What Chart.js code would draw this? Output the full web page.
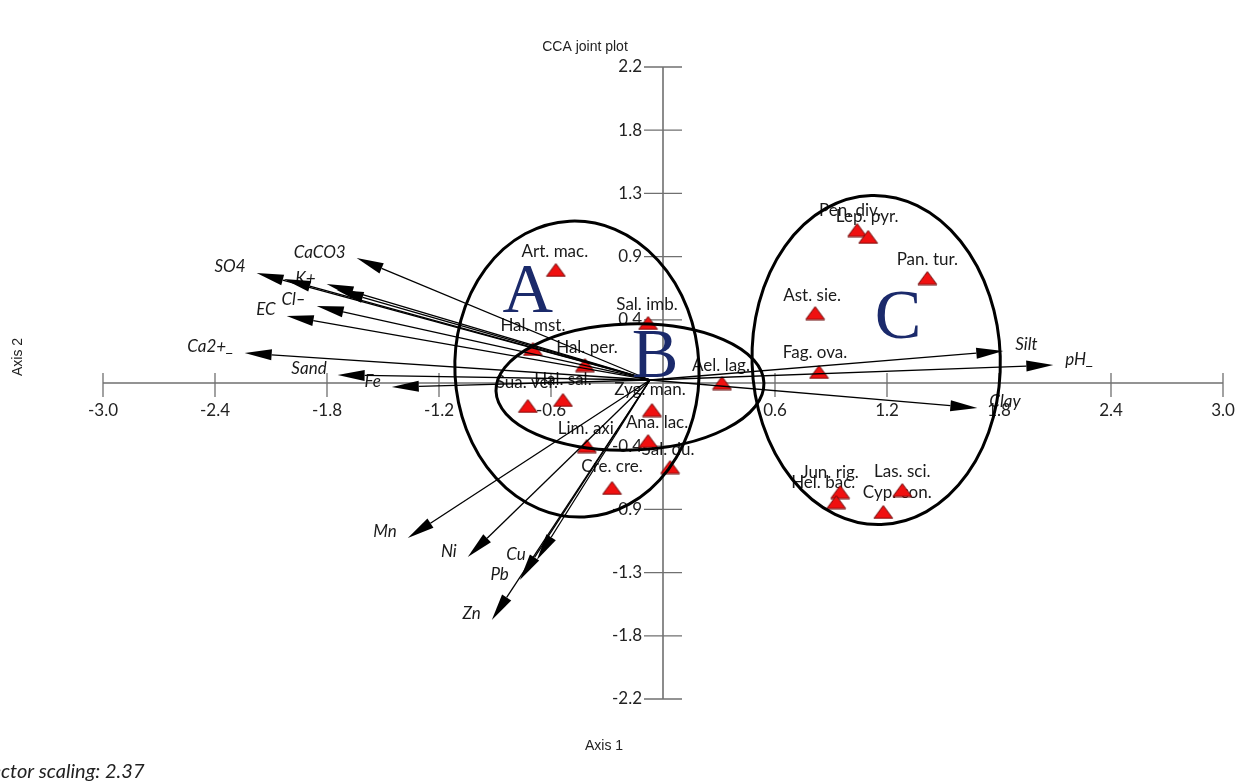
<!DOCTYPE html>
<html>
<head>
<meta charset="utf-8">
<script src="https://cdn.jsdelivr.net/npm/chart.js@4.4.1/dist/chart.umd.min.js"></script>
<style>
  html, body { margin: 0; padding: 0; background: #fff; }
  #wrap { width: 1247px; height: 783px; position: relative; }
</style>
</head>
<body>
<div id="wrap"><canvas id="cca" width="1247" height="783"></canvas></div>
<script>
// ---- axis ticks ----
const xTicks = [-3.0, -2.4, -1.8, -1.2, -0.6, 0.6, 1.2, 1.8, 2.4, 3.0];
const yTicks = [-2.2, -1.76, -1.32, -0.88, -0.44, 0.44, 0.88, 1.32, 1.76, 2.2];

// ---- species scores (axis 1, axis 2) ----
const speciesNames = ["Art. mac.", "Sal. imb.", "Hal. mst.", "Hal. per.", "Sua. ver.", "Hal. sal.",
  "Zyg. man.", "Ana. lac.", "Lim. axi.", "Sal. du.", "Cre. cre.", "Ael. lag.", "Fag. ova.",
  "Ast. sie.", "Pan. tur.", "Pen. div.", "Lep. pyr.", "Jun. rig.", "Hel. bac.", "Las. sci.", "Cyp. con."];
const speciesX = [-0.574, -0.080, -0.697, -0.418, -0.724, -0.536, -0.059, -0.080, -0.408, 0.038,
  -0.273, 0.316, 0.836, 0.815, 1.416, 1.040, 1.099, 0.949, 0.928, 1.282, 1.180];
const speciesY = [0.787, 0.418, 0.237, 0.125, -0.160, -0.118, -0.188, -0.404, -0.439, -0.585,
  -0.731, 0.000, 0.077, 0.487, 0.731, 1.065, 1.017, -0.759, -0.829, -0.745, -0.898];

// ---- environmental vectors (biplot tips) ----
const vectorOrigin = [-0.070, 0.021];
const vectorNames = ["CaCO3", "SO4", "Na+", "K+", "Mg2+", "Cl\u2013", "EC", "Ca2+_", "Sand", "Fe",
  "Silt", "pH_", "Clay", "Mn", "Ni", "Cu", "Pb", "Zn"];
const vectorX = [-1.641, -2.177, -2.032, -1.802, -1.748, -1.855, -2.016, -2.241, -1.743, -1.453,
  1.823, 2.091, 1.684, -1.367, -1.046, -0.676, -0.767, -0.917];
const vectorY = [0.870, 0.766, 0.724, 0.689, 0.648, 0.536, 0.467, 0.209, 0.056, -0.028,
  0.223, 0.125, -0.174, -1.079, -1.212, -1.233, -1.372, -1.650];

// ---- site groups (ellipse centre, semi-axes, in axis units) ----
const groupNames = ["A", "B", "C"];
const groupCX = [-0.461, -0.177, 1.142];
const groupCY = [0.097, -0.028, 0.160];
const groupRX = [0.654, 0.718, 0.665];
const groupRY = [1.031, 0.439, 1.146];
const groupLabelX = [-0.724, -0.043, 1.260];
const groupLabelY = [0.494, 0.042, 0.313];

// ---- drawing styles ----
const ellipseTilt = [-0.05, -0.03, -0.03];
// vector names that sit under the crowded arrowheads and are left unlabelled
const crowdedVectorLabels = new Set(["Na+", "Mg2+"]);
const labelNudge = {
  "Art. mac.": [-1, -18], "Sal. imb.": [-1, -18], "Hal. mst.": [0, -23], "Hal. per.": [2, -18],
  "Sua. ver.": [-1, -23], "Hal. sal.": [0, -20], "Zyg. man.": [-2, -20], "Ana. lac.": [9, -19],
  "Lim. axi.": [1, -18], "Sal. du.": [-2, -18], "Cre. cre.": [0, -21], "Ael. lag.": [-1, -17],
  "Fag. ova.": [-4, -19], "Ast. sie.": [-3, -18], "Pan. tur.": [0, -18], "Pen. div.": [-7, -20],
  "Lep. pyr.": [-1, -20], "Jun. rig.": [-10, -20], "Hel. bac.": [-13, -20], "Las. sci.": [0, -18],
  "Cyp. con.": [14, -19]
};

// red triangle marker
function makeTriangle() {
  const c = document.createElement('canvas');
  c.width = 21; c.height = 15;
  const g = c.getContext('2d');
  g.beginPath();
  g.moveTo(10.5, 1); g.lineTo(20, 14); g.lineTo(1, 14); g.closePath();
  g.fillStyle = '#f01010';
  g.fill();
  g.lineWidth = 1;
  g.strokeStyle = '#6a0a0a';
  g.stroke();
  return c;
}

function drawArrow(ctx, x0, y0, x1, y1) {
  const a = Math.atan2(y1 - y0, x1 - x0);
  const L = 27, W = 5.5;
  const bx = x1 - L * Math.cos(a), by = y1 - L * Math.sin(a);
  ctx.beginPath();
  ctx.moveTo(x0, y0); ctx.lineTo(bx, by);
  ctx.stroke();
  ctx.beginPath();
  ctx.moveTo(x1, y1);
  ctx.lineTo(bx - W * Math.sin(a), by + W * Math.cos(a));
  ctx.lineTo(bx + W * Math.sin(a), by - W * Math.cos(a));
  ctx.closePath();
  ctx.fill();
}

const ccaPlugin = {
  id: 'ccaJoint',
  beforeDraw(chart) {
    const ctx = chart.ctx;
    ctx.save();
    ctx.fillStyle = '#ffffff';
    ctx.fillRect(0, 0, chart.width, chart.height);
    ctx.restore();
  },
  beforeDatasetsDraw(chart) {
    const ctx = chart.ctx;
    const xs = chart.scales.x, ys = chart.scales.y;
    const x0 = xs.getPixelForValue(0), y0 = ys.getPixelForValue(0);
    ctx.save();

    // axes crossing at the origin
    ctx.strokeStyle = '#707070';
    ctx.lineWidth = 1.6;
    ctx.beginPath();
    ctx.moveTo(xs.getPixelForValue(xs.min), y0); ctx.lineTo(xs.getPixelForValue(xs.max), y0);
    ctx.moveTo(x0, ys.getPixelForValue(ys.max)); ctx.lineTo(x0, ys.getPixelForValue(ys.min));
    ctx.stroke();

    ctx.lineWidth = 1.3;
    ctx.beginPath();
    xTicks.forEach(v => {
      const px = xs.getPixelForValue(v);
      ctx.moveTo(px, y0 - 10); ctx.lineTo(px, y0 + 14);
    });
    yTicks.forEach(v => {
      const py = ys.getPixelForValue(v);
      ctx.moveTo(x0 - 19, py); ctx.lineTo(x0 + 19, py);
    });
    ctx.stroke();

    // tick labels
    ctx.fillStyle = '#222';
    ctx.font = '17px Lato, "Liberation Sans", sans-serif';
    ctx.textAlign = 'center';
    ctx.textBaseline = 'middle';
    xTicks.forEach(v => ctx.fillText(v.toFixed(1), xs.getPixelForValue(v), y0 + 28));
    ctx.textAlign = 'right';
    yTicks.forEach(v => ctx.fillText(v.toFixed(1), x0 - 21, ys.getPixelForValue(v)));

    // titles
    ctx.font = '14px "Liberation Sans", Arial, sans-serif';
    ctx.textAlign = 'center';
    ctx.fillText('CCA joint plot', 585, 47);
    ctx.fillText('Axis 1', 604, 746);
    ctx.save();
    ctx.translate(18, 357);
    ctx.rotate(-Math.PI / 2);
    ctx.fillText('Axis 2', 0, 0);
    ctx.restore();
    ctx.font = 'italic 20px Lato, "Liberation Sans", sans-serif';
    ctx.textAlign = 'left';
    ctx.fillText('Vector scaling: 2.37', 1 - ctx.measureText('Ve').width, 772);

    // species names
    ctx.font = '17px Lato, "Liberation Sans", sans-serif';
    ctx.textAlign = 'center';
    ctx.fillStyle = '#1a1a1a';
    speciesNames.forEach((n, i) => {
      const d = labelNudge[n] || [0, -19];
      ctx.fillText(n, xs.getPixelForValue(speciesX[i]) + d[0], ys.getPixelForValue(speciesY[i]) + d[1]);
    });

    // vector names, set just beyond each arrow tip
    ctx.font = 'italic 17px Lato, "Liberation Sans", sans-serif';
    vectorNames.forEach((n, i) => {
      if (crowdedVectorLabels.has(n)) return;
      const px = xs.getPixelForValue(vectorX[i]), py = ys.getPixelForValue(vectorY[i]);
      if (vectorX[i] < vectorOrigin[0]) {
        ctx.textAlign = 'right';
        ctx.fillText(n, px - 11, py - 6);
      } else {
        ctx.textAlign = 'left';
        ctx.fillText(n, px + 12, py - 6);
      }
    });
    ctx.restore();
  },
  afterDatasetsDraw(chart) {
    const ctx = chart.ctx;
    const xs = chart.scales.x, ys = chart.scales.y;
    ctx.save();

    // environmental vectors
    const ox = xs.getPixelForValue(vectorOrigin[0]), oy = ys.getPixelForValue(vectorOrigin[1]);
    ctx.strokeStyle = '#000';
    ctx.fillStyle = '#000';
    ctx.lineWidth = 1.3;
    vectorNames.forEach((n, i) => {
      drawArrow(ctx, ox, oy, xs.getPixelForValue(vectorX[i]), ys.getPixelForValue(vectorY[i]));
    });

    // group ellipses
    ctx.lineWidth = 3;
    groupNames.forEach((g, i) => {
      const cx = xs.getPixelForValue(groupCX[i]), cy = ys.getPixelForValue(groupCY[i]);
      const rx = xs.getPixelForValue(groupCX[i] + groupRX[i]) - cx;
      const ry = cy - ys.getPixelForValue(groupCY[i] + groupRY[i]);
      ctx.beginPath();
      ctx.ellipse(cx, cy, rx, ry, ellipseTilt[i], 0, Math.PI * 2);
      ctx.stroke();
    });

    // group letters
    ctx.fillStyle = '#1b2a6b';
    ctx.font = '70px "Liberation Serif", "Times New Roman", serif';
    ctx.textAlign = 'center';
    ctx.textBaseline = 'alphabetic';
    groupNames.forEach((g, i) => {
      ctx.fillText(g, xs.getPixelForValue(groupLabelX[i]), ys.getPixelForValue(groupLabelY[i]));
    });
    ctx.restore();
  }
};

const tri = makeTriangle();

new Chart(document.getElementById('cca'), {
  type: 'scatter',
  data: {
    datasets: [{
      label: 'Species',
      data: speciesX.map((x, i) => ({ x: x, y: speciesY[i] })),
      pointStyle: tri,
      pointRadius: 8,
      pointHoverRadius: 8
    }]
  },
  options: {
    responsive: false,
    animation: false,
    devicePixelRatio: 1,
    layout: { padding: { left: 103, right: 24, top: 67, bottom: 84 } },
    scales: {
      x: { type: 'linear', min: -3.0, max: 3.0, display: false },
      y: { type: 'linear', min: -2.2, max: 2.2, display: false }
    },
    plugins: {
      legend: { display: false },
      tooltip: { enabled: false }
    },
    events: []
  },
  plugins: [ccaPlugin]
});
</script>
</body>
</html>
